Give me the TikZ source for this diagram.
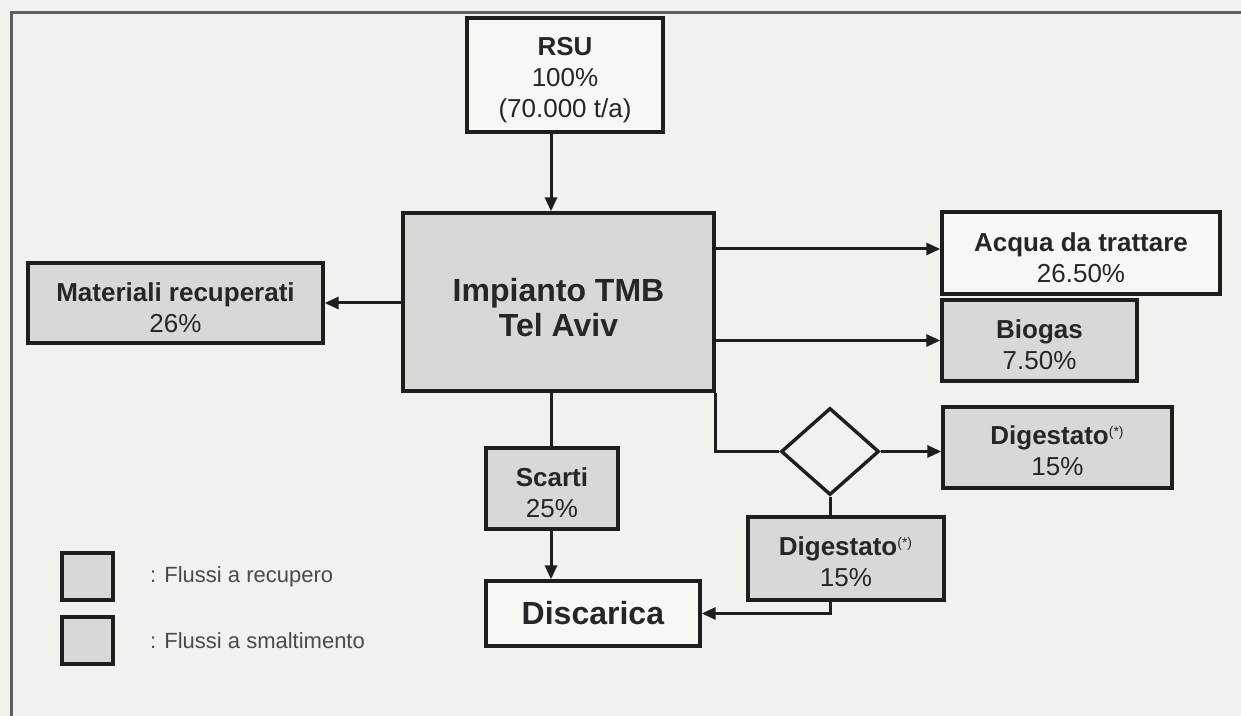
\documentclass[tikz,border=0pt]{standalone}
\usepackage{fontspec}
\setmainfont{Liberation Sans}
\usetikzlibrary{arrows.meta,shapes.geometric}
\definecolor{textcol}{HTML}{262626}
\definecolor{keycol}{HTML}{4A4A4A}
\definecolor{paper}{HTML}{F1F1EF}
\definecolor{boxgray}{HTML}{D8D8D6}
\definecolor{boxwhite}{HTML}{F7F7F6}
\definecolor{framecol}{HTML}{5E5E5E}
\definecolor{linecol}{HTML}{1E1E1E}
\newcommand{\notemark}{\textsuperscript{\mdseries\scriptsize(*)}}
\newcommand{\drop}[1]{\rule{0pt}{#1}}

\begin{document}
\begin{tikzpicture}[x=0.5pt,y=-0.5pt,
	flowbox/.style={draw=linecol,line width=1.7pt,inner sep=0pt,align=center,text=textcol,
		font=\fontsize{13}{15.5}\selectfont},
	recbox/.style={flowbox,fill=boxgray},
	endbox/.style={flowbox,fill=boxwhite},
	flow/.style={draw=linecol,line width=1.5pt},
	flowarrow/.style={flow,-{Triangle[length=7pt,width=6pt]}}]
\fill[paper] (0,0) rectangle (1241,716);
\useasboundingbox (0,0) rectangle (1241,716);
\draw[framecol,line width=1.5pt] (1241,13) -- (11,13) -- (11,716);

\node[endbox,minimum width=98pt,minimum height=57pt] (rsu) at (565,75) {\drop{14pt}\textbf{RSU}\\100\%\\(70.000 t/a)};
\node[recbox,minimum width=155.5pt,minimum height=89pt,font=\fontsize{16}{17.5}\selectfont] (tmb) at (558.5,302) {\drop{17pt}\textbf{Impianto TMB}\\\textbf{Tel Aviv}};
\node[recbox,minimum width=147.5pt,minimum height=40pt] (mat) at (175.5,303) {\drop{14pt}\textbf{Materiali recuperati}\\26\%};
\node[endbox,minimum width=139pt,minimum height=41pt] (acqua) at (1081,253) {\drop{14pt}\textbf{Acqua da trattare}\\26.50\%};
\node[recbox,minimum width=97.5pt,minimum height=40.5pt] (biogas) at (1039.5,340.5) {\drop{14pt}\textbf{Biogas}\\7.50\%};
\node[diamond,draw=linecol,line width=1.7pt,fill=paper,inner sep=0pt,minimum width=49pt,minimum height=43.5pt] (split) at (830,451.5) {};
\node[recbox,minimum width=114.5pt,minimum height=40.5pt] (digA) at (1057.5,447.5) {\drop{13pt}\textbf{Digestato}\notemark\\15\%};
\node[recbox,minimum width=98pt,minimum height=41.5pt] (digB) at (846,558.5) {\drop{13pt}\textbf{Digestato}\notemark\\15\%};
\node[recbox,minimum width=66pt,minimum height=40.5pt] (scarti) at (552,488.5) {\drop{14pt}\textbf{Scarti}\\25\%};
\node[endbox,minimum width=107pt,minimum height=32.5pt,font=\fontsize{16}{18}\selectfont] (disc) at (593,613.5) {\textbf{Discarica}};
\coordinate (spine) at (551,0);

\draw[flowarrow] (rsu.south -| spine) -- (tmb.north -| spine);
\draw[flowarrow] (tmb.west |- mat) -- (mat.east);
\draw[flowarrow] ([yshift=2pt]tmb.east |- acqua) -- ([yshift=2pt]acqua.west);
\draw[flowarrow] (tmb.east |- biogas) -- (biogas.west);
\draw[flow] (tmb.south east) |- (split.west);
\draw[flowarrow] (split.east) -- (digA.west |- split.east);
\draw[flow] (split.south) -- (split.south |- digB.north);
\draw[flowarrow] (digB.south -| split.south) |- (disc.east);
\draw[flow] (tmb.south -| spine) -- (scarti.north -| spine);
\draw[flowarrow] (scarti.south -| spine) -- (disc.north -| spine);

\foreach \name [count=\i] in {Flussi a recupero,Flussi a smaltimento}{
	\node[recbox,minimum width=25.5pt,minimum height=23.5pt] (key\i) at (87.5,{576.5+(\i-1)*64}) {};
	\node[anchor=west,inner sep=0pt,text=keycol,font=\fontsize{11}{13}\selectfont] (keytext\i) at ([xshift=17.5pt]key\i.east) {: \name};
	}
\end{tikzpicture}
\end{document}
